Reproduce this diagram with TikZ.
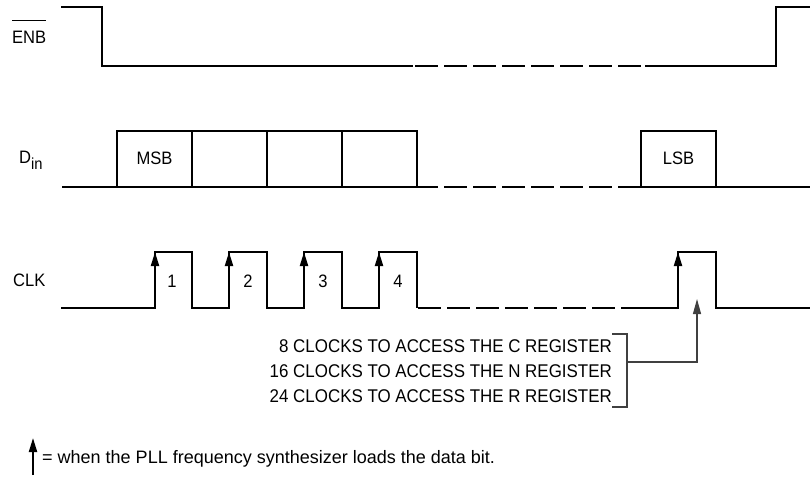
\documentclass[tikz,border=0pt]{standalone}
\usepackage{fontspec}
\setmainfont{Liberation Sans}
\newfontfamily\narrowsans{Liberation Sans}[FakeStretch=0.92]
\usetikzlibrary{arrows.meta}
\begin{document}
\begin{tikzpicture}[x=1pt,y=-1pt,
  wave/.style={line width=2pt, line join=miter, line cap=butt},
  gapdash/.style={wave, dash pattern=on 23pt off 6pt},
  lbl/.style={inner sep=0pt, font=\narrowsans\fontsize{18}{18}\selectfont},
  reglbl/.style={inner sep=0pt, anchor=base east, font=\narrowsans\fontsize{18.4}{18.4}\selectfont},
  bitbox/.style={draw, line width=2pt, minimum width=75pt, minimum height=56pt, inner sep=0pt, font=\narrowsans\fontsize{18}{18}\selectfont},
  edgearrow/.style={-{Triangle[length=14pt,width=8pt]}, line width=2pt},
  ptr/.style={line width=1.2pt, draw=black!75},
]
\useasboundingbox (0,0) rectangle (810,484);
% labels
\node[lbl, anchor=base west] (enb) at (12,43.3) {ENB};
\draw[line width=1pt] ([yshift=10.4pt]enb.north west) -- ([yshift=10.4pt]enb.north east);
\node[lbl, anchor=base west] (din) at (19,163) {D\raisebox{-6pt}{\fontsize{16}{16}\selectfont in}};
\node[lbl, anchor=base west] (clk) at (13,286) {CLK};
% ENB waveform
\draw[wave] (61,7) -- (102,7) -- (102,66) -- (413,66);
\draw[gapdash] (415,66) -- (641,66);
\draw[wave] (645,66) -- (776,66) -- (776,7) -- (810,7);
% Din waveform
\draw[wave] (62,187) -- (417,187);
\node[bitbox] (b1) at (154.5,159) {\raisebox{1.5pt}{MSB}};
\node[bitbox] (b2) at (229.5,159) {};
\node[bitbox] (b3) at (304.5,159) {};
\node[bitbox] (b4) at (379.5,159) {};
\draw[gapdash] (415,187) -- (641,187);
\node[bitbox] (b5) at (678.5,159) {\raisebox{1.5pt}{LSB}};
\draw[wave] (716,187) -- (810,187);
% CLK waveform
\draw[wave] (61,308) -- (155,308) -- (155,252) -- (192,252) -- (192,308) -- (229,308) -- (229,252) -- (267,252) -- (267,308) -- (304,308) -- (304,252) -- (342,252) -- (342,308) -- (379,308) -- (379,252) -- (417,252) -- (417,308);
\draw[gapdash] (418,308) -- (644,308);
\draw[wave] (644,308) -- (678,308) -- (678,252) -- (716,252) -- (716,308) -- (810,308);
\foreach \x in {155,229,304,379,678}{
  \draw[edgearrow] (\x,285) -- (\x,252);
}
\node[lbl, anchor=base] (n1) at (172,287) {1};
\node[lbl, anchor=base] (n2) at (248,287) {2};
\node[lbl, anchor=base] (n3) at (323,287) {3};
\node[lbl, anchor=base] (n4) at (398,287) {4};
% register text and bracket
\node[reglbl] (r1) at (612,352) {8 CLOCKS TO ACCESS THE C REGISTER};
\node[reglbl] (r2) at (612,377) {16 CLOCKS TO ACCESS THE N REGISTER};
\node[reglbl] (r3) at (612,402) {24 CLOCKS TO ACCESS THE R REGISTER};
\coordinate (brk) at (627,362);
\coordinate (tgt) at (697,299);
\draw[ptr] (612,334) -- (627,334) -- (627,407) -- (612,407);
\draw[ptr, -{Triangle[length=15pt,width=8pt]}] (brk) -- (tgt |- brk) -- (tgt);
% footer
\coordinate (fa) at (33,475);
\coordinate (fb) at (33,438);
\draw[edgearrow] (fa) -- (fb);
\node[inner sep=0pt, anchor=base west, font=\fontsize{18}{18}\selectfont] (foot) at (42,463) {= when the PLL frequency synthesizer loads the data bit.};
\end{tikzpicture}
\end{document}
